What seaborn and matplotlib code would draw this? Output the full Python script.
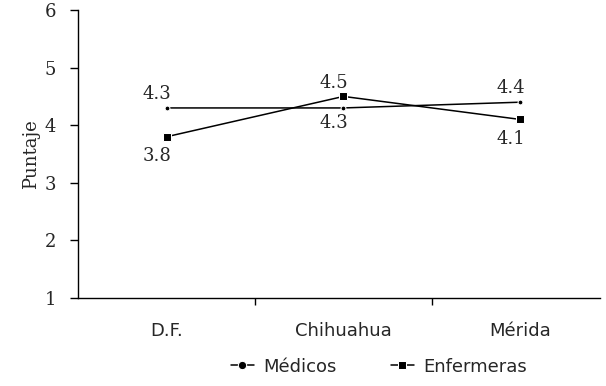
import numpy as np
import pandas as pd
import matplotlib.pyplot as plt
import seaborn as sns

# Datos
ciudades = ["D.F.", "Chihuahua", "Mérida"]
medicos = [4.3, 4.3, 4.4]
enfermeras = [3.8, 4.5, 4.1]
grupos = ["Médicos", "Enfermeras"]

df = pd.DataFrame({
    "pos": list(range(len(ciudades))) * 2,
    "Puntaje": medicos + enfermeras,
    "grupo": [grupos[0]] * len(ciudades) + [grupos[1]] * len(ciudades),
})

sns.set_theme(style="ticks")
plt.rcParams["font.family"] = ["DejaVu Serif"]
sans = ["DejaVu Sans"]

fig = plt.figure(figsize=(6.06, 3.86), dpi=100)
ax = fig.add_axes([0.129, 0.228, 0.861, 0.746])

sns.lineplot(data=df, x="pos", y="Puntaje", hue="grupo", style="grupo",
             markers={"Médicos": "o", "Enfermeras": "s"}, dashes=False,
             palette=["black", "black"], linewidth=1.1, ax=ax, legend=True)
for ln, ms in zip(ax.lines, [3.5, 6]):
    ln.set_markersize(ms)

# Etiquetas de valores (arriba o abajo segun el caso)
off_med = [10, -11, 10]
off_enf = [-14, 10, -14]
for i in range(len(ciudades)):
    ax.annotate(f"{medicos[i]:.1f}", (i, medicos[i]), xytext=(-7, off_med[i]),
                textcoords="offset points", ha="center", va="center", fontsize=13)
    ax.annotate(f"{enfermeras[i]:.1f}", (i, enfermeras[i]), xytext=(-7, off_enf[i]),
                textcoords="offset points", ha="center", va="center", fontsize=13)

ax.set_xlim(-0.5, 2.45)
ax.set_ylim(1, 6)
ax.set_yticks([1, 2, 3, 4, 5, 6])
ax.set_xticks([0, 1, 2])
ax.set_xticklabels(ciudades, fontsize=13, family=sans)
ax.tick_params(axis="x", length=0, pad=17)
ax.set_xticks([0.5, 1.5], minor=True)
ax.tick_params(axis="x", which="minor", length=5, width=1, color="black")
ax.tick_params(axis="y", labelsize=13, length=6, width=1, color="black", pad=10)
ax.set_xlabel("")
ax.set_ylabel("Puntaje", fontsize=13, labelpad=3)
for s in ["top", "right"]:
    ax.spines[s].set_visible(False)
for s in ["left", "bottom"]:
    ax.spines[s].set_color("black")
    ax.spines[s].set_linewidth(1)

h, l = ax.get_legend_handles_labels()
ax.get_legend().remove()
fig.legend(h, l, loc="lower center", bbox_to_anchor=(0.625, -0.015), ncol=2,
           frameon=False, prop={"family": sans, "size": 13}, handlelength=1.3,
           columnspacing=3.0, handletextpad=0.5)

plt.savefig("out.png", dpi=100)
